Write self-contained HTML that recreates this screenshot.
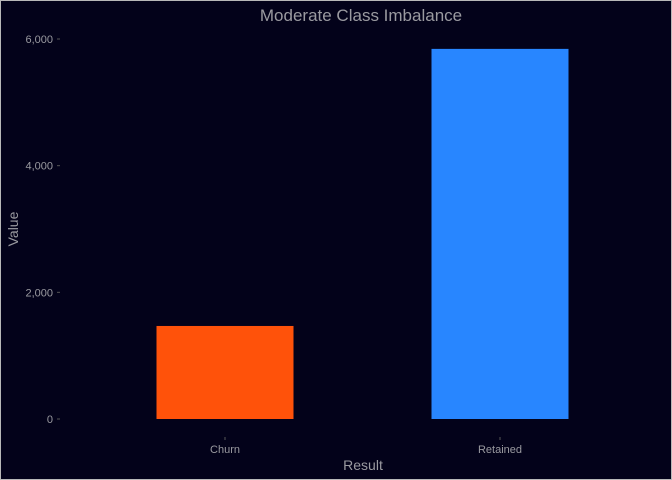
<!DOCTYPE html>
<html><head><meta charset="utf-8"><style>
html,body{margin:0;padding:0;background:#03021a;}
svg{display:block;}
text{font-family:"Liberation Sans",sans-serif;}
</style></head><body>
<svg id="chart" width="672" height="480">
<rect x="0.5" y="0.5" width="671" height="479" fill="#03021a" stroke="#b8b8b8" stroke-width="1"/>
<text x="361" y="21" text-anchor="middle" font-size="17" fill="#9a9aa0">Moderate Class Imbalance</text>
<text x="18" y="229" text-anchor="middle" font-size="14" fill="#9a9aa0" transform="rotate(-90 18 229)">Value</text>
<text x="363" y="470" text-anchor="middle" font-size="14" fill="#9a9aa0">Result</text>
<g id="yaxis"></g><g id="bars"></g><g id="xaxis"></g>
</svg>
<script>
const categories = ["Churn", "Retained"];
const values = [1469, 5844];
const yTicks = [0, 2000, 4000, 6000];
const yTickLabels = ["0", "2,000", "4,000", "6,000"];
const colors = ["#ff520a", "#2886ff"];
const ns = "http://www.w3.org/2000/svg";
const y = v => 419 - v * (380 / 6000);
const x = i => 225 + i * 275;
const bw = 137;
const ya = document.getElementById('yaxis');
yTicks.forEach((t, i) => {
  const tx = document.createElementNS(ns, 'text');
  
  
  tx.setAttribute('x', 53); tx.setAttribute('y', y(t) + 4);
  tx.setAttribute('text-anchor', 'end'); tx.setAttribute('font-size', '11'); tx.setAttribute('fill', '#9a9aa0');
  tx.textContent = yTickLabels[i]; ya.appendChild(tx);
  const l = document.createElementNS(ns, 'line');
  
  
  l.setAttribute('x1', 57); l.setAttribute('x2', 60); l.setAttribute('y1', y(t)); l.setAttribute('y2', y(t));
  l.setAttribute('stroke', '#555'); ya.appendChild(l);
});
const bg = document.getElementById('bars'), xa = document.getElementById('xaxis');
categories.forEach((c, i) => {
  const r = document.createElementNS(ns, 'rect');
  
  
  r.setAttribute('x', x(i) - bw / 2); r.setAttribute('y', y(values[i]));
  r.setAttribute('width', bw); r.setAttribute('height', y(0) - y(values[i]));
  r.setAttribute('fill', colors[i]); bg.appendChild(r);
  const l = document.createElementNS(ns, 'line');
  
  
  l.setAttribute('x1', x(i)); l.setAttribute('x2', x(i)); l.setAttribute('y1', 437); l.setAttribute('y2', 440);
  l.setAttribute('stroke', '#555'); xa.appendChild(l);
  const tx = document.createElementNS(ns, 'text');
  
  
  tx.setAttribute('x', x(i)); tx.setAttribute('y', 453);
  tx.setAttribute('text-anchor', 'middle'); tx.setAttribute('font-size', '11'); tx.setAttribute('fill', '#9a9aa0');
  tx.textContent = c; xa.appendChild(tx);
});
</script>
</body></html>
